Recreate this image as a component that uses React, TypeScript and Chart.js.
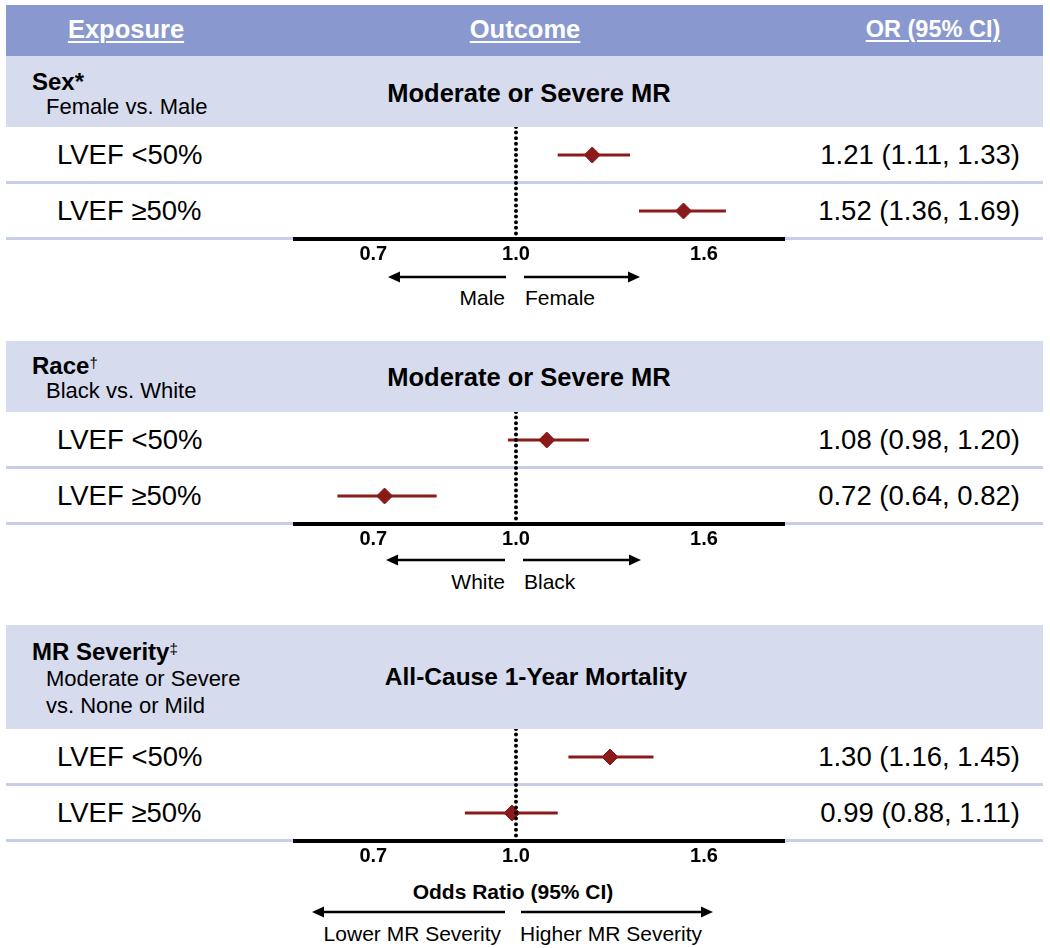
import React, { useEffect, useRef } from "react";
import { Chart, registerables } from "chart.js";
Chart.register(...registerables);

// ---------------- data ----------------
const headerLabels = ["Exposure", "Outcome", "OR (95% CI)"];
const exposureNames = ["Sex", "Race", "MR Severity"];
const exposureMarks = ["*", "†", "‡"];
const exposureSubs = [["Female vs. Male"], ["Black vs. White"], ["Moderate or Severe", "vs. None or Mild"]];
const outcomes = ["Moderate or Severe MR", "Moderate or Severe MR", "All-Cause 1-Year Mortality"];
const rowLabels = ["LVEF <50%", "LVEF ≥50%"];
const orTexts = [
  ["1.21 (1.11, 1.33)", "1.52 (1.36, 1.69)"],
  ["1.08 (0.98, 1.20)", "0.72 (0.64, 0.82)"],
  ["1.30 (1.16, 1.45)", "0.99 (0.88, 1.11)"],
];
// plotted positions
const orPoint = [[1.21, 1.52], [1.08, 0.72], [1.265, 0.99]];
const ciLow = [[1.11, 1.36], [0.98, 0.64], [1.14, 0.88]];
const ciHigh = [[1.33, 1.69], [1.2, 0.82], [1.41, 1.11]];
const tickValues = [0.7, 1.0, 1.6];
const directionLabels = [["Male", "Female"], ["White", "Black"], ["Lower MR Severity", "Higher MR Severity"]];
const axisTitle = "Odds Ratio (95% CI)";

// ---------------- layout / style ----------------
const FONT = '"Liberation Sans", Arial, Helvetica, sans-serif';
const W = 1050;
const H = 948;
const RED = "#8b1a1a";
const HEADER_BG = "#8999cf";
const BAND_BG = "#d6dbee";
const SEP = "#c8ceea";
const BAND_L = 6;
const BAND_R = 1043;
const HEADER_TOP = 5;
const HEADER_BOT = 56;
const bandTops = [56, 341, 625];
const plotTops = [127, 412, 729];
const PLOT_L = 293;
const PLOT_W = 492;
const PLOT_H = 112;
const AXIS_H = 30;
const X_MIN = 0.5727;
const X_MAX = 1.959;

type TP = {
  x: number; y: number; size: number; bold?: boolean; align?: "left" | "right" | "center";
  color?: string; children?: any; style?: any;
};
function T({ x, y, size, bold, align = "left", color = "#000", children, style }: TP) {
  const s: any = {
    position: "absolute", top: y - size / 2, lineHeight: size + "px", fontSize: size,
    fontWeight: bold ? 700 : 400, color, whiteSpace: "nowrap", ...style,
  };
  if (align === "left") s.left = x;
  else if (align === "right") s.right = W - x;
  else { s.left = x; s.transform = "translateX(-50%)"; }
  return <div style={s}>{children}</div>;
}

function Rect({ x, y, w, h, c }: { x: number; y: number; w: number; h: number; c: string }) {
  return <div style={{ position: "absolute", left: x, top: y, width: w, height: h, background: c }} />;
}

function Arrow({ from, to, y }: { from: number; to: number; y: number }) {
  const d = Math.sign(to - from);
  const hl = 12, hw = 5.5;
  return (
    <g>
      <line x1={from} y1={y} x2={to - d * (hl - 1)} y2={y} stroke="#000" strokeWidth={2.5} />
      <polygon points={`${to},${y} ${to - d * hl},${y - hw} ${to - d * hl},${y + hw}`} fill="#000" />
    </g>
  );
}

function ForestPlot({ idx }: { idx: number }) {
  const ref = useRef<HTMLCanvasElement>(null);
  useEffect(() => {
    if (!ref.current) return;
    const rowY = [3, 1];
    const datasets: any[] = [];
    datasets.push({
      type: "line", data: [{ x: 1, y: 4 }, { x: 1, y: 0 }], borderColor: "#000", borderWidth: 4,
      borderDash: [0, 5.6], borderCapStyle: "round", pointRadius: 0, order: 0,
    });
    for (let r = 0; r < 2; r++) {
      datasets.push({
        type: "line", data: [{ x: ciLow[idx][r], y: rowY[r] }, { x: ciHigh[idx][r], y: rowY[r] }],
        borderColor: RED, borderWidth: 3, pointRadius: 0, order: 2,
      });
    }
    datasets.push({
      type: "scatter", data: orPoint[idx].map((v, i) => ({ x: v, y: rowY[i] })),
      pointStyle: "rectRot", pointRadius: 8, backgroundColor: RED, borderColor: RED, borderWidth: 1, order: 1,
    });
    const chart = new Chart(ref.current, {
      type: "scatter",
      data: { datasets },
      options: {
        animation: false, responsive: false, maintainAspectRatio: false,
        layout: { padding: 0, autoPadding: false },
        plugins: { legend: { display: false }, tooltip: { enabled: false } },
        scales: {
          x: {
            type: "logarithmic", min: X_MIN, max: X_MAX,
            afterBuildTicks: (s: any) => { s.ticks = tickValues.map((v) => ({ value: v })); },
            afterFit: (s: any) => { s.height = AXIS_H; s.paddingLeft = 0; s.paddingRight = 0; },
            grid: { display: false, drawTicks: false },
            border: { display: true, color: "#000", width: 4 },
            ticks: {
              autoSkip: false, maxRotation: 0, padding: 3, color: "#000",
              font: { family: FONT, size: 20, weight: "bold" },
              callback: (v: any) => Number(v).toFixed(1),
            },
          },
          y: { type: "linear", min: 0, max: 4, display: false },
        },
      } as any,
    });
    return () => chart.destroy();
  }, [idx]);
  return (
    <canvas ref={ref} width={PLOT_W} height={PLOT_H + AXIS_H}
      style={{ position: "absolute", left: PLOT_L, top: plotTops[idx], width: PLOT_W, height: PLOT_H + AXIS_H, display: "block" }} />
  );
}

// per-section text offsets
const headerX = [126, 525, 933];
const headerSize = [25.5, 25.5, 23.5];
const titleDy = [26, 25, 27];
const subDy = [[51], [50], [54, 81]];
const outcomeDy = [38, 37, 52];
const outcomeX = [529, 529, 536];
const outcomeSize = [25.5, 25.5, 24.5];
const arrowY = [277, 560, 912];
const arrowL = [[506, 388], [505, 386], [505, 312]];
const arrowR = [[524, 640], [523, 641], [521, 713]];
const dirLabelY = [297, 581, 933];
const dirSplit = [[505, 525], [505, 524], [501, 520]];

export default function App() {
  return (
    <div style={{ position: "absolute", left: 0, top: 0, width: W, height: H, background: "#fff", overflow: "hidden", fontFamily: FONT, color: "#000" }}>
      <Rect x={BAND_L} y={HEADER_TOP} w={BAND_R - BAND_L} h={HEADER_BOT - HEADER_TOP} c={HEADER_BG} />
      {headerX.map((cx, i) => (
        <T key={i} x={cx} y={30} size={headerSize[i]} bold align="center" color="#fff"
          style={{ textDecoration: "underline", textDecorationThickness: "2px", textUnderlineOffset: "3px" }}>
          {headerLabels[i]}
        </T>
      ))}
      {[0, 1, 2].map((s) => {
        const bt = bandTops[s];
        const pt = plotTops[s];
        return (
          <React.Fragment key={s}>
            <Rect x={BAND_L} y={bt} w={BAND_R - BAND_L} h={pt - bt} c={BAND_BG} />
            <Rect x={BAND_L} y={pt + 54} w={BAND_R - BAND_L} h={3} c={SEP} />
            <Rect x={BAND_L} y={pt + 110} w={BAND_R - BAND_L} h={3} c={SEP} />
            <T x={32} y={bt + titleDy[s]} size={24} bold>
              {exposureNames[s]}
              {s === 0 ? (
                <span>{exposureMarks[s]}</span>
              ) : (
                <span style={{ fontSize: 15, fontWeight: 400, position: "relative", top: -6 }}>{exposureMarks[s]}</span>
              )}
            </T>
            {exposureSubs[s].map((line, j) => (
              <T key={j} x={46} y={bt + subDy[s][j]} size={22}>{line}</T>
            ))}
            <T x={outcomeX[s]} y={bt + outcomeDy[s]} size={outcomeSize[s]} bold align="center">{outcomes[s]}</T>
            {rowLabels.map((lbl, r) => (
              <React.Fragment key={r}>
                <T x={57} y={pt + 28 + r * 56} size={27.5}>{lbl}</T>
                <T x={1020} y={pt + 28 + r * 56} size={27.5} align="right">{orTexts[s][r]}</T>
              </React.Fragment>
            ))}
            <T x={dirSplit[s][0]} y={dirLabelY[s]} size={21} align="right">{directionLabels[s][0]}</T>
            <T x={dirSplit[s][1]} y={dirLabelY[s]} size={21}>{directionLabels[s][1]}</T>
            <ForestPlot idx={s} />
          </React.Fragment>
        );
      })}
      <T x={513} y={891} size={21} bold align="center">{axisTitle}</T>
      <svg width={W} height={H} style={{ position: "absolute", left: 0, top: 0, pointerEvents: "none" }}>
        {[0, 1, 2].map((s) => (
          <g key={s}>
            <Arrow from={arrowL[s][0]} to={arrowL[s][1]} y={arrowY[s]} />
            <Arrow from={arrowR[s][0]} to={arrowR[s][1]} y={arrowY[s]} />
          </g>
        ))}
      </svg>
    </div>
  );
}
